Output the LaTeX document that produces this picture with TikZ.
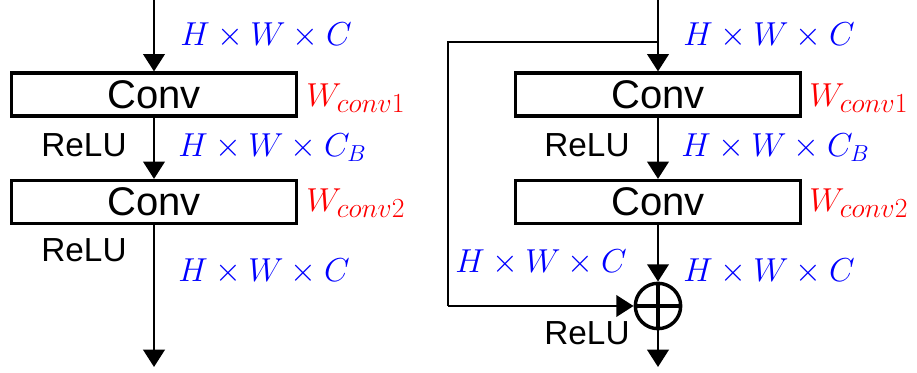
\documentclass[tikz,border=0pt]{standalone}
\usepackage{fontspec}
\setmainfont{Liberation Sans}
\usetikzlibrary{arrows.meta, positioning}
\newcommand{\bigsub}[2][21]{_{\mbox{\fontsize{#1}{22}\selectfont$#2$}}}

\begin{document}
\begin{tikzpicture}[
  x=0.75pt, y=-0.75pt,
  >={Triangle[length=13pt,width=16pt]},
  box/.style={draw, line width=2.6pt, minimum width=214pt, minimum height=32pt,
              inner sep=0pt, font=\fontsize{30}{32}\selectfont},
  relu/.style={font=\fontsize{25}{28}\selectfont, inner sep=0pt},
  dim/.style={text=blue, anchor=west, inner sep=0pt, font=\fontsize{23}{28}\selectfont},
  wgt/.style={text=red, anchor=west, inner sep=0pt, font=\fontsize{23}{28}\selectfont},
  arr/.style={->, line width=2.2pt},
]
\definecolor{blue}{HTML}{0000FF}
\definecolor{red}{HTML}{FF0000}
\useasboundingbox (0,0) rectangle (917,373);
% plain block
\coordinate (lin) at (154,0);
\coordinate (lout) at (154,367);
\node[box] (lconv1) at (154,94.5) {Conv};
\node[box] (lconv2) at (154,202) {Conv};
\node[dim] (ldim1) at (180,36) {$H\times W\times C$};
\node[wgt] (lw1) at (306,98) {$W\bigsub{conv1}$};
\node[relu] (lrelu1) at (84,145) {ReLU};
\node[dim] (ldim2) at (178,148) {$H\times W\times C\bigsub[17]{B}$};
\node[wgt] (lw2) at (306,203) {$W\bigsub{conv2}$};
\node[relu] (lrelu2) at (84,250) {ReLU};
\node[dim] (ldim3) at (178,272) {$H\times W\times C$};
\draw[arr] (lin)--(lconv1.north);
\draw[arr] (lconv1.south)--(lconv2.north);
\draw[arr] (lconv2.south)--(lout);
% residual block
\coordinate (rin) at (658,0);
\coordinate (rsplit) at (658,42);
\coordinate (rleft) at (448,306);
\coordinate (rout) at (658,367);
\node[box] (rconv1) at (658,94.5) {Conv};
\node[box] (rconv2) at (658,202) {Conv};
\node[draw, circle, line width=2.6pt, minimum size=34pt, inner sep=0pt] (add) at (658,306) {};
\draw[line width=2.6pt] (add.west)--(add.east);
\node[dim] (rdim1) at (683,36) {$H\times W\times C$};
\node[wgt] (rw1) at (809,98) {$W\bigsub{conv1}$};
\node[relu] (rrelu1) at (587,145) {ReLU};
\node[dim] (rdim2) at (681,148) {$H\times W\times C\bigsub[17]{B}$};
\node[wgt] (rw2) at (809,203) {$W\bigsub{conv2}$};
\node[dim] (rdim3) at (683,272) {$H\times W\times C$};
\node[dim] (rskip) at (455,263) {$H\times W\times C$};
\node[relu] (rrelu2) at (587,333) {ReLU};
\draw[arr] (rin)--(rconv1.north);
\draw[line width=2.2pt] (rsplit) -| (rleft);
\draw[arr] (rleft)--(add.west);
\draw[arr] (rconv1.south)--(rconv2.north);
\draw[arr] (rconv2.south)--(add.north);
\draw[line width=2.6pt] (add.north)--(add.south);
\draw[arr] (add.south)--(rout);
\end{tikzpicture}
\end{document}
